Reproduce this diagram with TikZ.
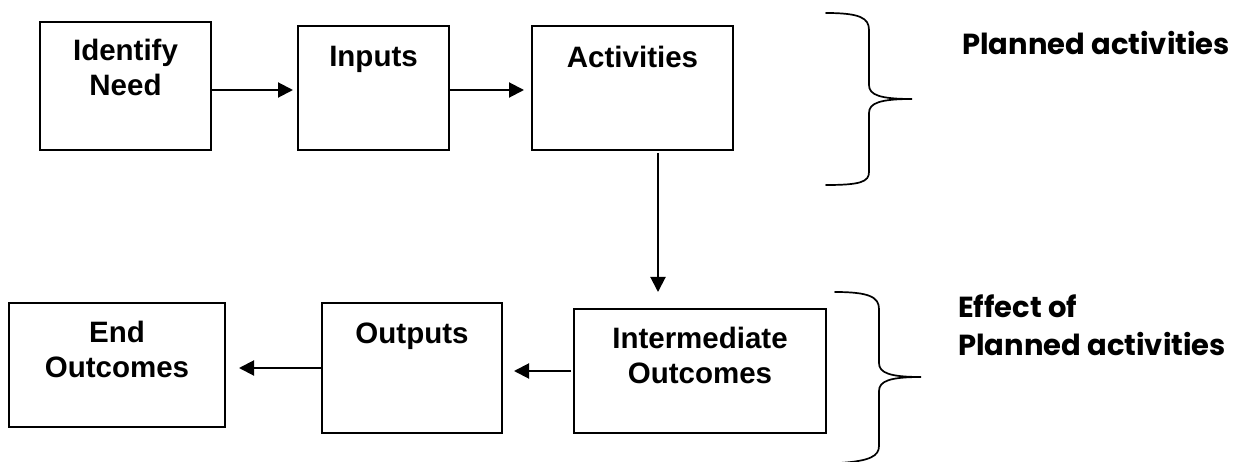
\documentclass[tikz,border=0pt]{standalone}
\usepackage{fontspec}
\setmainfont{Liberation Sans}
\newfontfamily\comicfont{Poppins}
\usetikzlibrary{arrows.meta}
\begin{document}
\begin{tikzpicture}[x=1pt,y=-1pt,
  box/.style={draw, line width=2pt, inner sep=0pt, outer sep=0pt},
  boxtext/.style={anchor=north, inner sep=0pt, align=center,
    font=\fontsize{29.5}{35}\selectfont\bfseries},
  sidetext/.style={anchor=base west, inner sep=0pt,
    font=\fontsize{29}{38}\selectfont\comicfont\bfseries},
  arr/.style={line width=2pt, -{Triangle[length=15pt,width=15pt]}},
  brace/.style={line width=1.7pt, line cap=round}]
\useasboundingbox (0,0) rectangle (1234,462);
% boxes
\node[box, minimum width=171pt, minimum height=128pt] (id) at (125.5,86) {};
\node[box, minimum width=151pt, minimum height=124pt] (inp) at (373.5,88) {};
\node[box, minimum width=201pt, minimum height=124pt] (act) at (632.5,88) {};
\node[box, minimum width=252pt, minimum height=124pt] (int) at (700,371) {};
\node[box, minimum width=180pt, minimum height=130pt] (out) at (412,368) {};
\node[box, minimum width=216pt, minimum height=124pt] (end) at (117,365) {};
% texts
\node[boxtext] (tid) at (125.5,39) {Identify\\Need};
\node[boxtext] (tinp) at (373.5,46) {Inputs};
\node[boxtext] (tact) at (632.5,46) {Activities};
\node[boxtext] (tint) at (700,327) {Intermediate\\Outcomes};
\node[boxtext] (tout) at (412,323) {Outputs};
\node[boxtext] (tend) at (117,321) {End\\Outcomes};
% connectors
\coordinate (r1) at (0,90);
\coordinate (r2) at (0,371);
\coordinate (r3) at (0,368);
\coordinate (vx) at (658,0);
\draw[arr, shorten >=5pt] (id.east |- r1) -- (inp.west |- r1);
\draw[arr, shorten >=8pt] (inp.east |- r1) -- (act.west |- r1);
\draw[arr, shorten <=3pt, shorten >=17pt] (act.south -| vx) -- (int.north -| vx);
\draw[arr, shorten <=3pt, shorten >=12pt] (int.west |- r2) -- (out.east |- r2);
\draw[arr, shorten >=14pt] (out.west |- r3) -- (end.east |- r3);
% braces
\draw[brace] (826,13) .. controls (860,13) and (869,18) .. (869,30) -- (869,85)
  .. controls (869,95) and (880,99) .. (912,99)
  .. controls (880,99) and (869,103) .. (869,113) -- (869,172)
  .. controls (869,182) and (860,185) .. (826,185);
\draw[brace] (835,292) .. controls (869,292) and (879,297) .. (879,309) -- (879,363)
  .. controls (879,373) and (890,377) .. (921,377)
  .. controls (890,377) and (879,381) .. (879,391) -- (879,446)
  .. controls (879,456) and (870,461) .. (840,463);
% side labels
\node[sidetext] (s1) at (962,55) {Planned activities};
\node[sidetext] (s2) at (958,317) {Effect of};
\node[sidetext] (s3) at (958,355) {Planned activities};
\end{tikzpicture}
\end{document}
